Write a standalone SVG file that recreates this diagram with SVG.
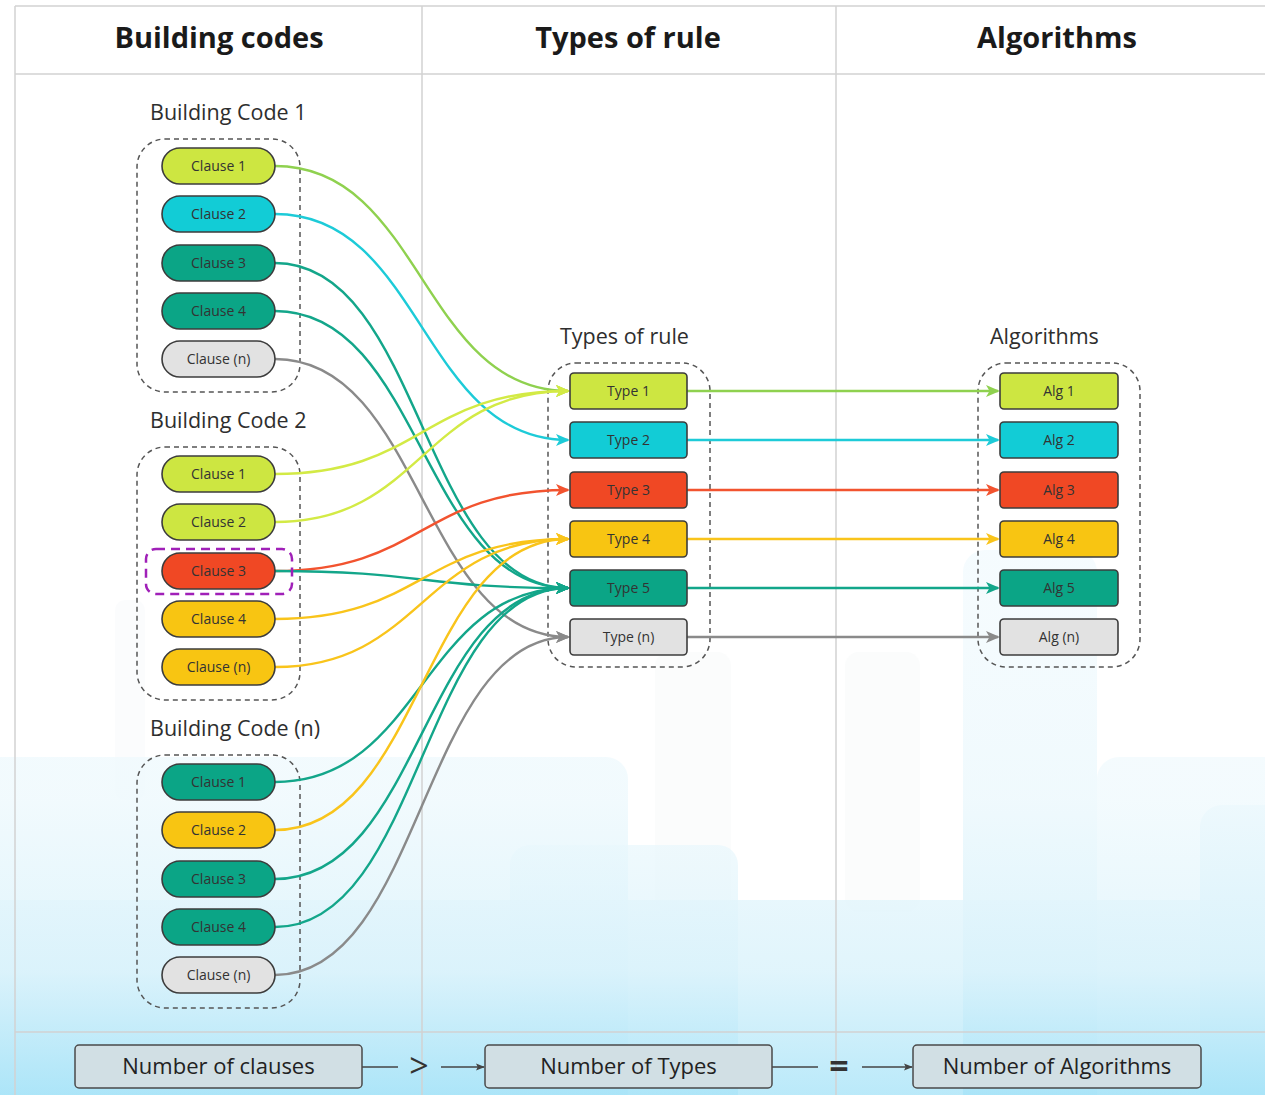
<svg xmlns="http://www.w3.org/2000/svg" width="1265" height="1095" viewBox="0 0 1265 1095">
<defs>
<linearGradient id="sky" gradientUnits="userSpaceOnUse" x1="0" y1="600" x2="0" y2="1095">
<stop offset="0" stop-color="#f4fbfe"/>
<stop offset="0.4" stop-color="#eef9fd"/>
<stop offset="0.75" stop-color="#d9f2fb"/>
<stop offset="1" stop-color="#a9e4f8"/>
</linearGradient>
<marker id="a-lg" viewBox="0 0 14 14" refX="12" refY="7" markerWidth="14" markerHeight="14" markerUnits="userSpaceOnUse" orient="auto"><path d="M0,1 L14,7 L0,13 L3.5,7 z" fill="#8fd14f"/></marker>
<marker id="a-lime" viewBox="0 0 14 14" refX="12" refY="7" markerWidth="14" markerHeight="14" markerUnits="userSpaceOnUse" orient="auto"><path d="M0,1 L14,7 L0,13 L3.5,7 z" fill="#d3ea45"/></marker>
<marker id="a-cyan" viewBox="0 0 14 14" refX="12" refY="7" markerWidth="14" markerHeight="14" markerUnits="userSpaceOnUse" orient="auto"><path d="M0,1 L14,7 L0,13 L3.5,7 z" fill="#1dcbd8"/></marker>
<marker id="a-teal" viewBox="0 0 14 14" refX="12" refY="7" markerWidth="14" markerHeight="14" markerUnits="userSpaceOnUse" orient="auto"><path d="M0,1 L14,7 L0,13 L3.5,7 z" fill="#13a68a"/></marker>
<marker id="a-red" viewBox="0 0 14 14" refX="12" refY="7" markerWidth="14" markerHeight="14" markerUnits="userSpaceOnUse" orient="auto"><path d="M0,1 L14,7 L0,13 L3.5,7 z" fill="#f2532f"/></marker>
<marker id="a-yel" viewBox="0 0 14 14" refX="12" refY="7" markerWidth="14" markerHeight="14" markerUnits="userSpaceOnUse" orient="auto"><path d="M0,1 L14,7 L0,13 L3.5,7 z" fill="#f9c41b"/></marker>
<marker id="a-gray" viewBox="0 0 14 14" refX="12" refY="7" markerWidth="14" markerHeight="14" markerUnits="userSpaceOnUse" orient="auto"><path d="M0,1 L14,7 L0,13 L3.5,7 z" fill="#8a8a8a"/></marker>
<marker id="a-dark" viewBox="0 0 10 10" refX="9" refY="5" markerWidth="9" markerHeight="9" markerUnits="userSpaceOnUse" orient="auto"><path d="M0,1 L10,5 L0,9 L2,5 z" fill="#444"/></marker>
</defs>
<style>
text{font-family:"Open Sans","Noto Sans","Liberation Sans",sans-serif;fill:#2b2b2b}
.hdr{font-size:29px;font-weight:700;text-anchor:middle;fill:#1a1a1a}
.glbl{font-size:21.5px;fill:#2e2e2e}
.nt{font-size:14px;text-anchor:middle;fill:#333}
.bt{font-size:22px;text-anchor:middle;fill:#222}
.op{font-size:34px;text-anchor:middle;fill:#333}
.grid{stroke:#d2d2d2;stroke-width:1.5;fill:none}
.grp{fill:none;stroke:#555;stroke-width:1.5;stroke-dasharray:5 4}
.node{stroke:#3c3c3c;stroke-width:1.6}
.lime{fill:#cde641}.cyan{fill:#12ccd6}.teal{fill:#0ba586}.red{fill:#f04824}.yel{fill:#f8c512}.gray{fill:#e2e2e2}
.c{fill:none;stroke-width:2.4}
.bbox{fill:#d1dfe4;stroke:#4a4a4a;stroke-width:1.5}
.bld{fill:url(#sky)}
</style>

<g id="background">
<rect width="1265" height="1095" fill="#ffffff"/>
<rect x="655" y="652" width="76" height="260" rx="14" fill="#f7f9fa" opacity="0.5"/>
<rect x="845" y="652" width="75" height="260" rx="14" fill="#f7f9fa" opacity="0.5"/>
<rect x="115" y="600" width="30" height="200" rx="10" fill="#f6f8f9" opacity="0.4"/>
<rect class="bld" x="-20" y="757" width="648" height="400" rx="22" opacity="0.8"/>
<rect class="bld" x="963" y="550" width="134" height="600" rx="22" opacity="0.9"/>
<rect class="bld" x="1097" y="757" width="200" height="400" rx="22" opacity="0.7"/>
<rect class="bld" x="1200" y="805" width="100" height="400" rx="22"/>
<rect class="bld" x="510" y="845" width="228" height="300" rx="20" opacity="0.7"/>
<rect class="bld" x="-20" y="900" width="1305" height="300" opacity="0.8"/>
</g>

<g id="grid">
<line class="grid" x1="15" y1="6" x2="1265" y2="6"/>
<line class="grid" x1="15" y1="74" x2="1265" y2="74"/>
<line class="grid" x1="15" y1="1032" x2="1265" y2="1032"/>
<line class="grid" x1="15" y1="6" x2="15" y2="1095"/>
<line class="grid" x1="422" y1="6" x2="422" y2="1095"/>
<line class="grid" x1="836" y1="6" x2="836" y2="1095"/>
<text class="hdr" x="219" y="48">Building codes</text>
<text class="hdr" x="628" y="48">Types of rule</text>
<text class="hdr" x="1057" y="48">Algorithms</text>
</g>

<g id="group-bc1">
<text class="glbl" x="150" y="120">Building Code 1</text>
<rect class="grp" x="137" y="139" width="163" height="253" rx="28"/>
</g>
<g id="group-bc2">
<text class="glbl" x="150" y="428">Building Code 2</text>
<rect class="grp" x="137" y="447" width="163" height="253" rx="28"/>
</g>
<g id="group-bcn">
<text class="glbl" x="150" y="736">Building Code (n)</text>
<rect class="grp" x="137" y="755" width="163" height="253" rx="28"/>
</g>
<g id="group-types">
<text class="glbl" x="560" y="344">Types of rule</text>
<rect class="grp" x="548" y="363" width="162" height="304" rx="28"/>
</g>
<g id="group-algs">
<text class="glbl" x="990" y="344">Algorithms</text>
<rect class="grp" x="978" y="363" width="162" height="304" rx="28"/>
</g>

<g id="connectors">
<path class="c" stroke="#8fd14f" marker-end="url(#a-lg)" d="M275,166 C422,166 422,391 568,391"/>
<path class="c" stroke="#1dcbd8" marker-end="url(#a-cyan)" d="M275,214 C422,214 422,440 568,440"/>
<path class="c" stroke="#13a68a" marker-end="url(#a-teal)" d="M275,263 C422,263 422,588 568,588"/>
<path class="c" stroke="#13a68a" marker-end="url(#a-teal)" d="M275,311 C422,311 422,588 568,588"/>
<path class="c" stroke="#8a8a8a" marker-end="url(#a-gray)" d="M275,359 C422,359 422,637 568,637"/>
<path class="c" stroke="#d3ea45" marker-end="url(#a-lime)" d="M275,474 C422,474 422,391 568,391"/>
<path class="c" stroke="#d3ea45" marker-end="url(#a-lime)" d="M275,522 C422,522 422,391 568,391"/>
<path class="c" stroke="#f2532f" marker-end="url(#a-red)" d="M275,571 C422,571 422,490 568,490"/>
<path class="c" stroke="#13a68a" marker-end="url(#a-teal)" d="M275,571 C422,571 422,588 568,588"/>
<path class="c" stroke="#f9c41b" marker-end="url(#a-yel)" d="M275,619 C422,619 422,539 568,539"/>
<path class="c" stroke="#f9c41b" marker-end="url(#a-yel)" d="M275,667 C422,667 422,539 568,539"/>
<path class="c" stroke="#13a68a" marker-end="url(#a-teal)" d="M275,782 C422,782 422,588 568,588"/>
<path class="c" stroke="#f9c41b" marker-end="url(#a-yel)" d="M275,830 C422,830 422,539 568,539"/>
<path class="c" stroke="#13a68a" marker-end="url(#a-teal)" d="M275,879 C422,879 422,588 568,588"/>
<path class="c" stroke="#13a68a" marker-end="url(#a-teal)" d="M275,927 C422,927 422,588 568,588"/>
<path class="c" stroke="#8a8a8a" marker-end="url(#a-gray)" d="M275,975 C422,975 422,637 568,637"/>
<path class="c" stroke="#8fd14f" marker-end="url(#a-lg)" d="M687,391 L998,391"/>
<path class="c" stroke="#1dcbd8" marker-end="url(#a-cyan)" d="M687,440 L998,440"/>
<path class="c" stroke="#f2532f" marker-end="url(#a-red)" d="M687,490 L998,490"/>
<path class="c" stroke="#f9c41b" marker-end="url(#a-yel)" d="M687,539 L998,539"/>
<path class="c" stroke="#13a68a" marker-end="url(#a-teal)" d="M687,588 L998,588"/>
<path class="c" stroke="#8a8a8a" marker-end="url(#a-gray)" d="M687,637 L998,637"/>
<line x1="362" y1="1067" x2="398" y2="1067" stroke="#444" stroke-width="1.5"/>
<line x1="441" y1="1067" x2="484" y2="1067" stroke="#444" stroke-width="1.5" marker-end="url(#a-dark)"/>
<line x1="772" y1="1067" x2="818" y2="1067" stroke="#444" stroke-width="1.5"/>
<line x1="862" y1="1067" x2="912" y2="1067" stroke="#444" stroke-width="1.5" marker-end="url(#a-dark)"/>
</g>

<g id="bc1-c1"><rect class="node lime" x="162" y="148" width="113" height="36" rx="18"/><text class="nt" x="218.5" y="171">Clause 1</text></g>
<g id="bc1-c2"><rect class="node cyan" x="162" y="196" width="113" height="36" rx="18"/><text class="nt" x="218.5" y="219">Clause 2</text></g>
<g id="bc1-c3"><rect class="node teal" x="162" y="245" width="113" height="36" rx="18"/><text class="nt" x="218.5" y="268">Clause 3</text></g>
<g id="bc1-c4"><rect class="node teal" x="162" y="293" width="113" height="36" rx="18"/><text class="nt" x="218.5" y="316">Clause 4</text></g>
<g id="bc1-cn"><rect class="node gray" x="162" y="341" width="113" height="36" rx="18"/><text class="nt" x="218.5" y="364">Clause (n)</text></g>

<g id="bc2-c1"><rect class="node lime" x="162" y="456" width="113" height="36" rx="18"/><text class="nt" x="218.5" y="479">Clause 1</text></g>
<g id="bc2-c2"><rect class="node lime" x="162" y="504" width="113" height="36" rx="18"/><text class="nt" x="218.5" y="527">Clause 2</text></g>
<g id="bc2-c3"><rect class="node red" x="162" y="553" width="113" height="36" rx="18"/><text class="nt" x="218.5" y="576">Clause 3</text>
<rect x="146" y="549" width="146" height="45" rx="10" fill="none" stroke="#a020b8" stroke-width="2.5" stroke-dasharray="9 6"/></g>
<g id="bc2-c4"><rect class="node yel" x="162" y="601" width="113" height="36" rx="18"/><text class="nt" x="218.5" y="624">Clause 4</text></g>
<g id="bc2-cn"><rect class="node yel" x="162" y="649" width="113" height="36" rx="18"/><text class="nt" x="218.5" y="672">Clause (n)</text></g>

<g id="bcn-c1"><rect class="node teal" x="162" y="764" width="113" height="36" rx="18"/><text class="nt" x="218.5" y="787">Clause 1</text></g>
<g id="bcn-c2"><rect class="node yel" x="162" y="812" width="113" height="36" rx="18"/><text class="nt" x="218.5" y="835">Clause 2</text></g>
<g id="bcn-c3"><rect class="node teal" x="162" y="861" width="113" height="36" rx="18"/><text class="nt" x="218.5" y="884">Clause 3</text></g>
<g id="bcn-c4"><rect class="node teal" x="162" y="909" width="113" height="36" rx="18"/><text class="nt" x="218.5" y="932">Clause 4</text></g>
<g id="bcn-cn"><rect class="node gray" x="162" y="957" width="113" height="36" rx="18"/><text class="nt" x="218.5" y="980">Clause (n)</text></g>

<g id="type1"><rect class="node lime" x="570" y="373" width="117" height="36" rx="4"/><text class="nt" x="628.5" y="396">Type 1</text></g>
<g id="type2"><rect class="node cyan" x="570" y="422" width="117" height="36" rx="4"/><text class="nt" x="628.5" y="445">Type 2</text></g>
<g id="type3"><rect class="node red" x="570" y="472" width="117" height="36" rx="4"/><text class="nt" x="628.5" y="495">Type 3</text></g>
<g id="type4"><rect class="node yel" x="570" y="521" width="117" height="36" rx="4"/><text class="nt" x="628.5" y="544">Type 4</text></g>
<g id="type5"><rect class="node teal" x="570" y="570" width="117" height="36" rx="4"/><text class="nt" x="628.5" y="593">Type 5</text></g>
<g id="typen"><rect class="node gray" x="570" y="619" width="117" height="36" rx="4"/><text class="nt" x="628.5" y="642">Type (n)</text></g>

<g id="alg1"><rect class="node lime" x="1000" y="373" width="118" height="36" rx="4"/><text class="nt" x="1059" y="396">Alg 1</text></g>
<g id="alg2"><rect class="node cyan" x="1000" y="422" width="118" height="36" rx="4"/><text class="nt" x="1059" y="445">Alg 2</text></g>
<g id="alg3"><rect class="node red" x="1000" y="472" width="118" height="36" rx="4"/><text class="nt" x="1059" y="495">Alg 3</text></g>
<g id="alg4"><rect class="node yel" x="1000" y="521" width="118" height="36" rx="4"/><text class="nt" x="1059" y="544">Alg 4</text></g>
<g id="alg5"><rect class="node teal" x="1000" y="570" width="118" height="36" rx="4"/><text class="nt" x="1059" y="593">Alg 5</text></g>
<g id="algn"><rect class="node gray" x="1000" y="619" width="118" height="36" rx="4"/><text class="nt" x="1059" y="642">Alg (n)</text></g>

<g id="num-clauses"><rect class="bbox" x="75" y="1045" width="287" height="43" rx="4"/><text class="bt" x="218.5" y="1074">Number of clauses</text></g>
<g id="op-gt"><text class="op" x="419" y="1078">&gt;</text></g>
<g id="num-types"><rect class="bbox" x="485" y="1045" width="287" height="43" rx="4"/><text class="bt" x="628.5" y="1074">Number of Types</text></g>
<g id="op-eq"><text class="op" x="839" y="1078" font-weight="700">=</text></g>
<g id="num-algs"><rect class="bbox" x="913" y="1045" width="288" height="43" rx="4"/><text class="bt" x="1057" y="1074">Number of Algorithms</text></g>
</svg>
